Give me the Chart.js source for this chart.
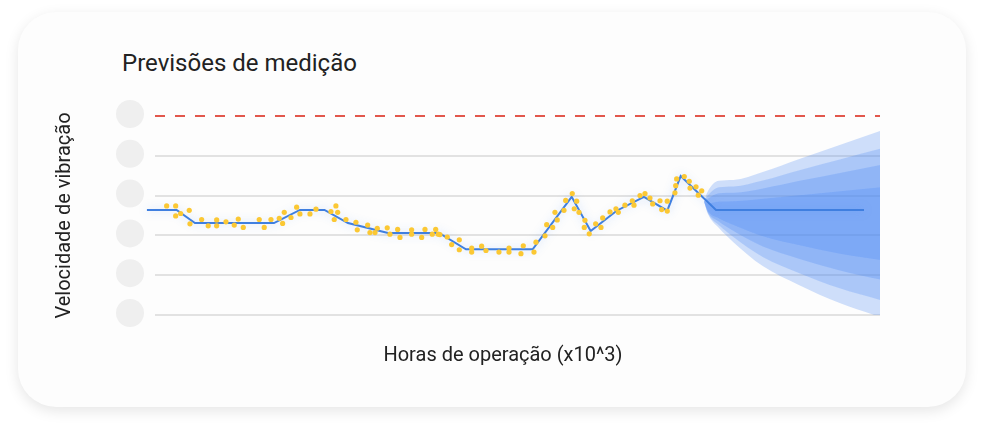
<!DOCTYPE html>
<html lang="pt">
<head>
<meta charset="utf-8">
<title>Previsões de medição</title>
<script src="https://cdn.jsdelivr.net/npm/chart.js@4.4.1/dist/chart.umd.min.js"></script>
<style>
  html, body { margin: 0; padding: 0; background: #ffffff; }
  body { width: 984px; height: 432px; position: relative; overflow: hidden; font-family: Roboto, "Noto Sans", sans-serif; }
  .card {
    position: absolute; left: 18px; top: 12px; width: 948px; height: 395px;
    background: #fdfdfd; border-radius: 38px;
    box-shadow: 0 4px 14px rgba(0, 0, 0, 0.10);
  }
  .titulo { position: absolute; left: 122px; top: 49px; font-size: 24px; line-height: 28px; color: #222; }
  .eixo-x { position: absolute; left: 303px; width: 400px; top: 342px; text-align: center; font-size: 20px; line-height: 24px; color: #222; }
  #grafico { position: absolute; left: 0; top: 0; }
</style>
</head>
<body>
<div class="card"></div>
<div class="titulo">Previsões de medição</div>
<canvas id="grafico" width="984" height="432"></canvas>
<div class="eixo-x">Horas de operação (x10^3)</div>
<script>
// Tendência (linha azul)
const horasTendencia = [0, 4.05, 6.55, 17.33, 20.87, 24.22, 27.42, 32.88, 39.84, 43.52, 52.62, 57.94, 60.53, 64.08, 67.80, 70.98, 72.81, 77.63, 97.82];
const velTendencia = [2.64, 2.64, 2.31, 2.31, 2.64, 2.64, 2.31, 2.06, 2.06, 1.65, 1.65, 2.97, 2.11, 2.62, 2.97, 2.62, 3.49, 2.64, 2.64];

// Medições (pontos amarelos)
const horasMedidas = [2.69, 3.92, 3.92, 4.60, 5.77, 5.87, 7.46, 8.36, 9.51, 9.51, 10.78, 11.91, 12.46, 13.14, 15.32, 16.00, 16.92, 18.05, 18.51, 18.73,
  19.65, 20.42, 20.87, 22.24, 23.06, 25.10, 25.78, 26.02, 25.55, 27.15, 28.51, 28.69, 30.11, 30.42, 31.11, 31.42, 32.78, 33.15, 34.20, 34.52,
  36.11, 36.11, 37.48, 37.93, 38.92, 39.39, 39.74, 39.97, 40.97, 41.57, 42.61, 42.61, 44.30, 44.30, 45.66, 46.25, 48.02, 49.39, 49.39, 51.02,
  51.34, 52.80, 53.07, 54.30, 54.53, 55.35, 55.66, 55.97, 56.89, 57.12, 58.02, 58.62, 58.29, 58.94, 59.75, 59.66, 60.34, 61.21, 61.94, 62.17,
  63.17, 63.98, 64.30, 65.21, 66.21, 66.44, 67.26, 67.94, 68.62, 68.99, 69.99, 70.22, 70.98, 70.98, 72.03, 72.13, 72.26, 73.30, 73.98, 74.08,
  74.90, 75.21, 75.68];
const velMedida = [2.74, 2.74, 2.49, 2.55, 2.63, 2.29, 2.40, 2.24, 2.39, 2.24, 2.34, 2.26, 2.41, 2.20, 2.40, 2.20, 2.40, 2.43, 2.30, 2.58,
  2.45, 2.71, 2.54, 2.54, 2.66, 2.60, 2.74, 2.58, 2.40, 2.40, 2.33, 2.14, 2.26, 2.07, 2.07, 2.18, 2.19, 2.03, 2.15, 1.95,
  2.14, 2.03, 1.95, 2.15, 2.03, 2.15, 2.03, 2.02, 1.96, 1.77, 1.89, 1.64, 1.68, 1.58, 1.73, 1.62, 1.58, 1.68, 1.58, 1.54,
  1.74, 1.58, 1.83, 1.99, 2.27, 2.20, 2.58, 2.39, 2.63, 2.88, 3.05, 2.86, 2.67, 2.58, 2.38, 2.20, 2.04, 2.29, 2.20, 2.44,
  2.59, 2.67, 2.58, 2.76, 2.87, 2.76, 3.00, 3.05, 2.94, 2.79, 2.87, 2.65, 2.86, 2.61, 3.07, 3.25, 3.42, 3.48, 3.36, 3.19,
  3.22, 3.01, 3.12];

// Limite (linha tracejada vermelha)
const horasLimite = [1.1, 100];
const velLimite = [5, 5];

// Previsão: faixas de confiança (da mais larga à mais estreita)
const horasPrevisao = [76.0, 76.5, 78, 80, 84, 89, 94.5, 100];
const faixa1Sup = [2.85, 3.10, 3.37, 3.39, 3.59, 3.92, 4.27, 4.62];
const faixa1Inf = [2.85, 2.55, 2.19, 1.83, 1.23, 0.75, 0.30, -0.05];
const faixa2Sup = [2.85, 3.00, 3.21, 3.23, 3.38, 3.64, 3.91, 4.18];
const faixa2Inf = [2.85, 2.57, 2.26, 1.96, 1.46, 1.05, 0.67, 0.38];
const faixa3Sup = [2.85, 2.92, 3.06, 3.07, 3.18, 3.37, 3.57, 3.77];
const faixa3Inf = [2.85, 2.59, 2.35, 2.11, 1.72, 1.41, 1.12, 0.89];
const faixa4Sup = [2.85, 2.80, 2.85, 2.86, 2.92, 3.01, 3.11, 3.21];
const faixa4Inf = [2.85, 2.62, 2.43, 2.26, 1.98, 1.75, 1.54, 1.38];

const yTicks = [0, 1, 2, 3, 4, 5];

function pontos(xs, ys) {
  return xs.map((x, i) => ({ x: x, y: ys[i] }));
}

const corFaixa = "rgba(66, 133, 244, 0.25)";
function faixa(sup, inf) {
  return [
    {
      label: "faixa",
      data: pontos(horasPrevisao, sup),
      fill: "+1",
      backgroundColor: corFaixa,
      borderWidth: 0,
      pointRadius: 0,
      cubicInterpolationMode: "monotone",
      clip: false,
      order: 4,
    },
    {
      label: "faixa-inf",
      data: pontos(horasPrevisao, inf),
      fill: false,
      borderWidth: 0,
      borderColor: "transparent",
      pointRadius: 0,
      cubicInterpolationMode: "monotone",
      clip: false,
      order: 4,
    },
  ];
}

// círculos cinzentos no lugar dos rótulos do eixo y
const circulosEixo = {
  id: "circulosEixo",
  afterDraw(chart) {
    const ctx = chart.ctx;
    const esc = chart.scales.y;
    ctx.save();
    ctx.fillStyle = "#efefef";
    yTicks.forEach((v) => {
      ctx.beginPath();
      ctx.arc(chart.chartArea.left - 25, esc.getPixelForValue(v) - 2, 14, 0, Math.PI * 2);
      ctx.fill();
    });
    ctx.restore();
  },
};

// brilho suave na linha de tendência
const brilho = {
  id: "brilho",
  beforeDatasetDraw(chart, args) {
    if (args.meta.label !== "Tendência") return;
    const ctx = chart.ctx;
    ctx.save();
    ctx.shadowColor = "rgba(66, 133, 244, 0.35)";
    ctx.shadowBlur = 10;
  },
  afterDatasetDraw(chart, args) {
    if (args.meta.label !== "Tendência") return;
    chart.ctx.restore();
  },
};

const ctx = document.getElementById("grafico").getContext("2d");
new Chart(ctx, {
  type: "line",
  data: {
    datasets: [
      {
        label: "Medições",
        data: pontos(horasMedidas, velMedida),
        showLine: false,
        pointRadius: 2.6,
        pointBorderWidth: 0,
        pointBackgroundColor: "#fbc834",
        order: 0,
      },
      {
        label: "Tendência",
        data: pontos(horasTendencia, velTendencia),
        borderColor: "#3f7fe0",
        borderWidth: 2,
        pointRadius: 0,
        tension: 0,
        fill: false,
        clip: false,
        order: 1,
      },
      {
        label: "Limite",
        data: pontos(horasLimite, velLimite),
        borderColor: "#e2574c",
        borderWidth: 2,
        borderDash: [10, 10],
        pointRadius: 0,
        fill: false,
        clip: false,
        order: 2,
      },
      ...faixa(faixa1Sup, faixa1Inf),
      ...faixa(faixa2Sup, faixa2Inf),
      ...faixa(faixa3Sup, faixa3Inf),
      ...faixa(faixa4Sup, faixa4Inf),
    ],
  },
  options: {
    responsive: false,
    animation: false,
    layout: { padding: { top: 116, right: 104, bottom: 0, left: 0 } },
    plugins: {
      legend: { display: false },
      tooltip: { enabled: false },
    },
    scales: {
      x: {
        type: "linear",
        min: 1.1,
        max: 100,
        ticks: { display: false },
        grid: { display: false },
        border: { display: false },
        afterFit: (s) => { s.height = 117; },
      },
      y: {
        min: 0,
        max: 5,
        ticks: { display: false, stepSize: 1 },
        grid: {
          color: (c) => (c.tick && c.tick.value === 5 ? "transparent" : "#e2e2e2"),
          lineWidth: 2,
          drawTicks: false,
        },
        border: { display: false },
        title: {
          display: true,
          text: "Velocidade de vibração",
          color: "#222",
          font: { family: "Roboto", size: 20 },
          padding: { top: 53, bottom: 0 },
        },
        afterFit: (s) => { s.width = 155; },
      },
    },
  },
  plugins: [circulosEixo, brilho],
});
</script>
</body>
</html>
